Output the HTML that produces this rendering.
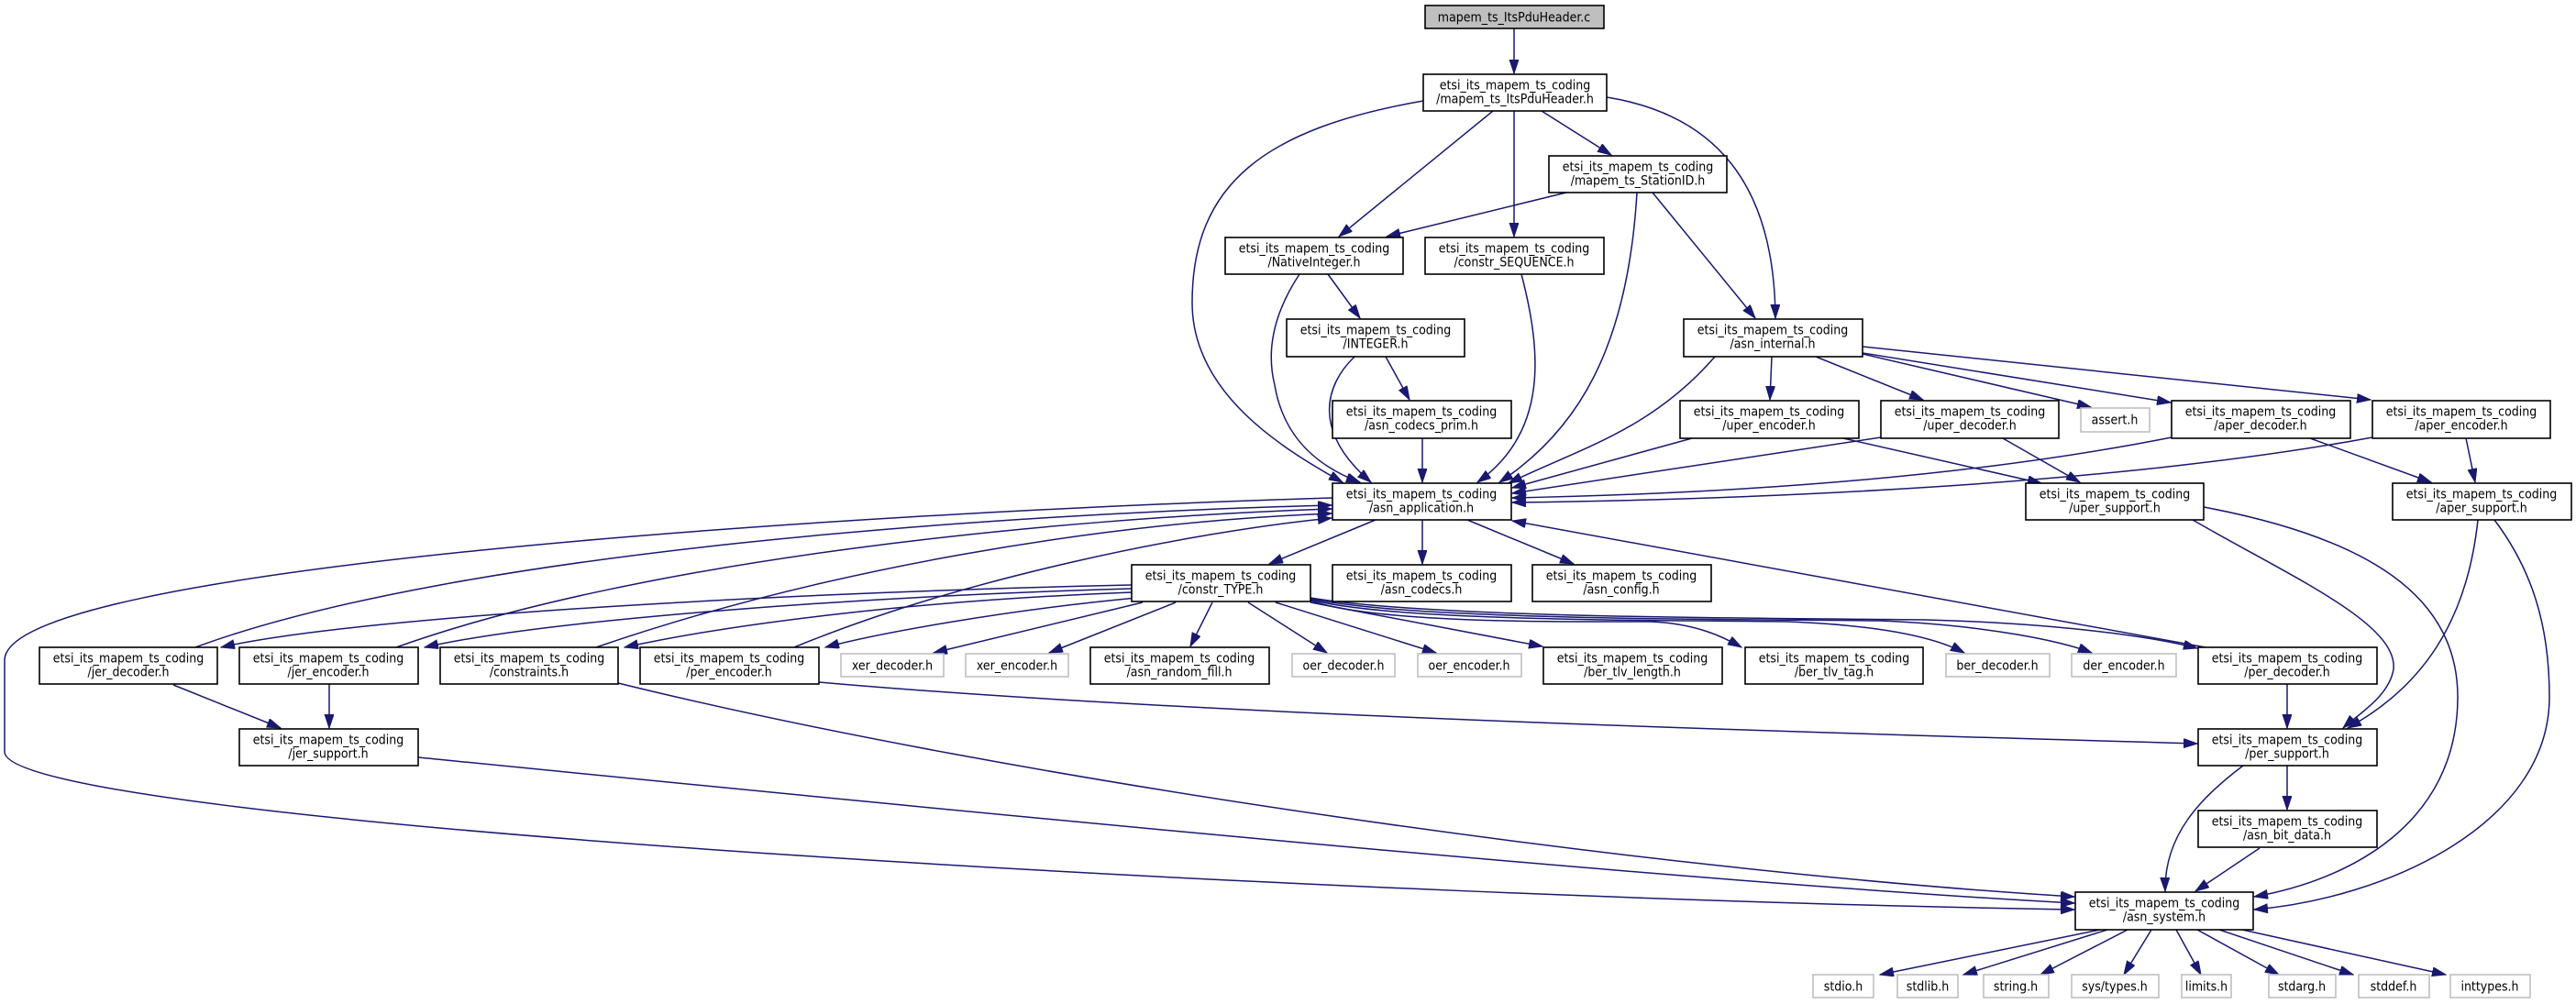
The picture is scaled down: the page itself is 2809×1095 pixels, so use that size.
<!DOCTYPE html>
<html><head><meta charset="utf-8"><style>
html,body{margin:0;padding:0;background:#fff;}
svg{display:block}
text{font-family:"DejaVu Sans Condensed","DejaVu Sans","Liberation Sans",sans-serif;font-stretch:condensed;font-size:14px;fill:#000;text-anchor:middle}
.n{fill:#fff;stroke:#000;stroke-width:1.6}
.g{fill:#fff;stroke:#bfbfbf;stroke-width:1.6}
.e{fill:none;stroke:#191970;stroke-width:1.5;marker-end:url(#a)}
</style></head><body>
<svg width="2809" height="1095" viewBox="0 0 2809 1095" xmlns="http://www.w3.org/2000/svg">
<defs><marker id="a" markerUnits="userSpaceOnUse" markerWidth="16" markerHeight="11" refX="15" refY="5" orient="auto"><path d="M0,0 L15,5 L0,10 z" fill="#191970" stroke="#191970"/></marker></defs>
<g>
<path class="e" d="M1651,31 L1651,80"/>
<path class="e" d="M1628,121 L1460,258"/>
<path class="e" d="M1651,121 L1651,258"/>
<path class="e" d="M1681,121 L1757,169"/>
<path class="e" d="M1708,210 L1512,258"/>
<path class="e" d="M1752,106 C1870,125 1935,200 1936,347"/>
<path class="e" d="M1552,110 C1380,140 1300,200 1300,330 C1300,430 1400,490 1464,526"/>
<path class="e" d="M1785,210 C1775,380 1720,470 1635,526"/>
<path class="e" d="M1802,210 L1914,347"/>
<path class="e" d="M1448,299 L1483,347"/>
<path class="e" d="M1417,299 C1390,340 1380,380 1390,420 C1400,480 1440,510 1483,526"/>
<path class="e" d="M1511,389 L1537,436"/>
<path class="e" d="M1477,389 C1445,420 1430,470 1495,526"/>
<path class="e" d="M1551,478 L1551,526"/>
<path class="e" d="M1659,299 C1680,380 1690,470 1611,526"/>
<path class="e" d="M1870,389 C1800,470 1720,490 1645,527"/>
<path class="e" d="M1932,389 L1930,436"/>
<path class="e" d="M1980,389 L2097,436"/>
<path class="e" d="M2031,386 L2280,444"/>
<path class="e" d="M2031,385 L2367,439"/>
<path class="e" d="M2031,378 L2585,436"/>
<path class="e" d="M1845,478 L1649,532"/>
<path class="e" d="M2051,477 L1649,538"/>
<path class="e" d="M2368,477 C2100,530 1800,540 1649,543"/>
<path class="e" d="M2587,477 C2300,530 1900,545 1649,548"/>
<path class="e" d="M2010,478 L2226,527"/>
<path class="e" d="M2184,478 L2268,526"/>
<path class="e" d="M2519,478 L2651,526"/>
<path class="e" d="M2689,478 L2699,526"/>
<path class="e" d="M2391,567 C2500,630 2615,680 2610,730 C2605,760 2570,780 2555,794"/>
<path class="e" d="M2403,553 C2600,590 2680,660 2680,760 C2680,900 2560,960 2458,978"/>
<path class="e" d="M2702,567 C2690,680 2640,750 2560,794"/>
<path class="e" d="M2720,567 C2760,620 2780,680 2780,760 C2780,900 2600,980 2458,992"/>
<path class="e" d="M2494,835 L2494,883"/>
<path class="e" d="M2446,835 C2400,870 2360,910 2361,972"/>
<path class="e" d="M2464,925 L2394,972"/>
<path class="e" d="M2494,746 L2494,794"/>
<path class="e" d="M2405,706 L1649,568"/>
<path class="e" d="M893,744 C1300,780 2000,800 2396,811"/>
<path class="e" d="M674,745 C1100,850 1800,950 2262,978"/>
<path class="e" d="M456,826 C1000,880 1800,960 2262,985"/>
<path class="e" d="M1453,543 C900,560 5,620 5,720 L5,820 C5,900 1500,980 2262,992"/>
<path class="e" d="M189,747 L306,794"/>
<path class="e" d="M359,746 L359,794"/>
<path class="e" d="M213,706 C500,600 1100,560 1452,551"/>
<path class="e" d="M432,706 C700,610 1150,565 1452,555"/>
<path class="e" d="M650,706 C900,620 1200,570 1452,560"/>
<path class="e" d="M866,706 C1050,630 1300,580 1452,565"/>
<path class="e" d="M1234,638 C900,645 400,670 241,706"/>
<path class="e" d="M1234,642 C950,650 600,675 463,706"/>
<path class="e" d="M1234,646 C1000,655 800,680 681,706"/>
<path class="e" d="M1240,652 C1100,665 960,690 900,706"/>
<path class="e" d="M1246,657 L1018,712"/>
<path class="e" d="M1282,657 L1144,712"/>
<path class="e" d="M1322,657 L1298,705"/>
<path class="e" d="M1361,657 L1447,712"/>
<path class="e" d="M1391,657 L1566,712"/>
<path class="e" d="M1429,657 L1682,705"/>
<path class="e" d="M1429,655 C1500,680 1700,678 1800,678 C1850,680 1880,695 1899,706"/>
<path class="e" d="M1429,654 C1520,678 1800,676 1950,678 C2050,682 2110,695 2142,712"/>
<path class="e" d="M1429,653 C1540,676 1850,675 2050,677 C2170,682 2250,700 2281,712"/>
<path class="e" d="M1429,652 C1560,674 1900,674 2100,676 C2250,680 2350,695 2396,707"/>
<path class="e" d="M1500,567 L1384,615"/>
<path class="e" d="M1551,567 L1551,615"/>
<path class="e" d="M1600,567 L1716,615"/>
<path class="e" d="M2290,1014 L2050,1063"/>
<path class="e" d="M2298,1014 L2141,1063"/>
<path class="e" d="M2320,1014 L2225,1063"/>
<path class="e" d="M2346,1014 L2316,1063"/>
<path class="e" d="M2373,1014 L2400,1063"/>
<path class="e" d="M2396,1014 L2485,1063"/>
<path class="e" d="M2420,1014 L2566,1063"/>
<path class="e" d="M2445,1014 L2667,1063"/>
</g>
<g>
<rect x="1554" y="6" width="195" height="25" fill="#bfbfbf" stroke="#000" stroke-width="1.6"/><text x="1651" y="23.5">mapem_ts_ItsPduHeader.c</text>
<rect class="n" x="1552" y="81" width="200" height="40"/><text x="1652" y="97.5">etsi_its_mapem_ts_coding</text><text x="1652" y="112.5">/mapem_ts_ItsPduHeader.h</text>
<rect class="n" x="1689" y="170" width="194" height="40"/><text x="1786" y="186.5">etsi_its_mapem_ts_coding</text><text x="1786" y="201.5">/mapem_ts_StationID.h</text>
<rect class="n" x="1336" y="259" width="194" height="40"/><text x="1433" y="275.5">etsi_its_mapem_ts_coding</text><text x="1433" y="290.5">/NativeInteger.h</text>
<rect class="n" x="1554" y="259" width="195" height="40"/><text x="1651" y="275.5">etsi_its_mapem_ts_coding</text><text x="1651" y="290.5">/constr_SEQUENCE.h</text>
<rect class="n" x="1403" y="348" width="194" height="41"/><text x="1500" y="364.5">etsi_its_mapem_ts_coding</text><text x="1500" y="379.5">/INTEGER.h</text>
<rect class="n" x="1836" y="348" width="195" height="41"/><text x="1933" y="364.5">etsi_its_mapem_ts_coding</text><text x="1933" y="379.5">/asn_internal.h</text>
<rect class="n" x="1453" y="437" width="195" height="41"/><text x="1550" y="453.5">etsi_its_mapem_ts_coding</text><text x="1550" y="468.5">/asn_codecs_prim.h</text>
<rect class="n" x="1832" y="437" width="195" height="41"/><text x="1929" y="453.5">etsi_its_mapem_ts_coding</text><text x="1929" y="468.5">/uper_encoder.h</text>
<rect class="n" x="2051" y="437" width="194" height="41"/><text x="2148" y="453.5">etsi_its_mapem_ts_coding</text><text x="2148" y="468.5">/uper_decoder.h</text>
<rect class="g" x="2269" y="445" width="75" height="26"/><text x="2306" y="462.5">assert.h</text>
<rect class="n" x="2368" y="437" width="195" height="41"/><text x="2465" y="453.5">etsi_its_mapem_ts_coding</text><text x="2465" y="468.5">/aper_decoder.h</text>
<rect class="n" x="2587" y="437" width="194" height="41"/><text x="2684" y="453.5">etsi_its_mapem_ts_coding</text><text x="2684" y="468.5">/aper_encoder.h</text>
<rect class="n" x="1453" y="527" width="195" height="40"/><text x="1550" y="543.5">etsi_its_mapem_ts_coding</text><text x="1550" y="558.5">/asn_application.h</text>
<rect class="n" x="2209" y="527" width="194" height="40"/><text x="2306" y="543.5">etsi_its_mapem_ts_coding</text><text x="2306" y="558.5">/uper_support.h</text>
<rect class="n" x="2609" y="527" width="195" height="40"/><text x="2706" y="543.5">etsi_its_mapem_ts_coding</text><text x="2706" y="558.5">/aper_support.h</text>
<rect class="n" x="1234" y="616" width="195" height="40"/><text x="1331" y="632.5">etsi_its_mapem_ts_coding</text><text x="1331" y="647.5">/constr_TYPE.h</text>
<rect class="n" x="1453" y="616" width="195" height="40"/><text x="1550" y="632.5">etsi_its_mapem_ts_coding</text><text x="1550" y="647.5">/asn_codecs.h</text>
<rect class="n" x="1671" y="616" width="195" height="40"/><text x="1768" y="632.5">etsi_its_mapem_ts_coding</text><text x="1768" y="647.5">/asn_config.h</text>
<rect class="n" x="43" y="706" width="194" height="40"/><text x="140" y="722.5">etsi_its_mapem_ts_coding</text><text x="140" y="737.5">/jer_decoder.h</text>
<rect class="n" x="261" y="706" width="195" height="40"/><text x="358" y="722.5">etsi_its_mapem_ts_coding</text><text x="358" y="737.5">/jer_encoder.h</text>
<rect class="n" x="480" y="706" width="194" height="40"/><text x="577" y="722.5">etsi_its_mapem_ts_coding</text><text x="577" y="737.5">/constraints.h</text>
<rect class="n" x="698" y="706" width="195" height="40"/><text x="795" y="722.5">etsi_its_mapem_ts_coding</text><text x="795" y="737.5">/per_encoder.h</text>
<rect class="g" x="917" y="713" width="112" height="25"/><text x="973" y="730.5">xer_decoder.h</text>
<rect class="g" x="1053" y="713" width="112" height="25"/><text x="1109" y="730.5">xer_encoder.h</text>
<rect class="n" x="1189" y="706" width="195" height="40"/><text x="1286" y="722.5">etsi_its_mapem_ts_coding</text><text x="1286" y="737.5">/asn_random_fill.h</text>
<rect class="g" x="1409" y="713" width="112" height="25"/><text x="1465" y="730.5">oer_decoder.h</text>
<rect class="g" x="1546" y="713" width="113" height="25"/><text x="1602" y="730.5">oer_encoder.h</text>
<rect class="n" x="1683" y="706" width="195" height="40"/><text x="1780" y="722.5">etsi_its_mapem_ts_coding</text><text x="1780" y="737.5">/ber_tlv_length.h</text>
<rect class="n" x="1903" y="706" width="194" height="40"/><text x="2000" y="722.5">etsi_its_mapem_ts_coding</text><text x="2000" y="737.5">/ber_tlv_tag.h</text>
<rect class="g" x="2122" y="713" width="113" height="25"/><text x="2178" y="730.5">ber_decoder.h</text>
<rect class="g" x="2259" y="713" width="114" height="25"/><text x="2316" y="730.5">der_encoder.h</text>
<rect class="n" x="2397" y="706" width="195" height="40"/><text x="2494" y="722.5">etsi_its_mapem_ts_coding</text><text x="2494" y="737.5">/per_decoder.h</text>
<rect class="n" x="261" y="795" width="195" height="40"/><text x="358" y="811.5">etsi_its_mapem_ts_coding</text><text x="358" y="826.5">/jer_support.h</text>
<rect class="n" x="2397" y="795" width="195" height="40"/><text x="2494" y="811.5">etsi_its_mapem_ts_coding</text><text x="2494" y="826.5">/per_support.h</text>
<rect class="n" x="2397" y="884" width="195" height="40"/><text x="2494" y="900.5">etsi_its_mapem_ts_coding</text><text x="2494" y="915.5">/asn_bit_data.h</text>
<rect class="n" x="2263" y="973" width="194" height="41"/><text x="2360" y="989.5">etsi_its_mapem_ts_coding</text><text x="2360" y="1004.5">/asn_system.h</text>
<rect class="g" x="1977" y="1063" width="66" height="25"/><text x="2010" y="1080.5">stdio.h</text>
<rect class="g" x="2069" y="1063" width="66" height="25"/><text x="2102" y="1080.5">stdlib.h</text>
<rect class="g" x="2163" y="1063" width="71" height="25"/><text x="2198" y="1080.5">string.h</text>
<rect class="g" x="2259" y="1063" width="95" height="25"/><text x="2306" y="1080.5">sys/types.h</text>
<rect class="g" x="2379" y="1063" width="54" height="25"/><text x="2406" y="1080.5">limits.h</text>
<rect class="g" x="2474" y="1063" width="73" height="25"/><text x="2510" y="1080.5">stdarg.h</text>
<rect class="g" x="2572" y="1063" width="77" height="25"/><text x="2610" y="1080.5">stddef.h</text>
<rect class="g" x="2672" y="1063" width="87" height="25"/><text x="2715" y="1080.5">inttypes.h</text>
</g>
</svg>
</body></html>
